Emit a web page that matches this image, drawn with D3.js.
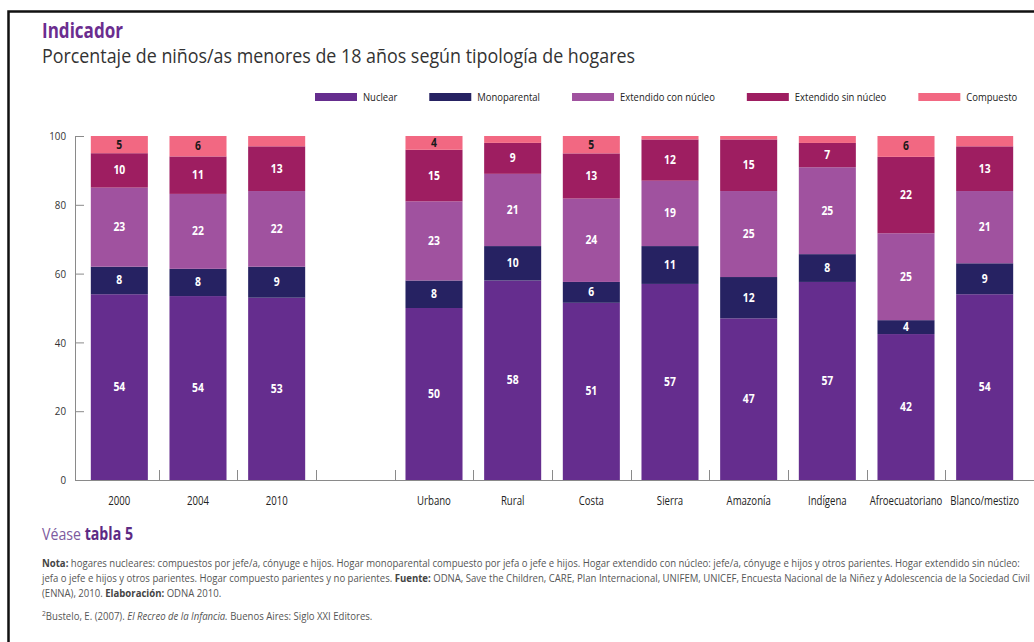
<!DOCTYPE html>
<html>
<head>
<meta charset="utf-8">
<script src="https://cdn.jsdelivr.net/npm/d3@7"></script>
<style>
  body { margin: 0; background: #fff; }
  svg { display: block; }
  text { font-family: "Open Sans", "Noto Sans", sans-serif; }
</style>
</head>
<body>
<svg id="chart" width="1034" height="642"></svg>
<script>
// categories (" " is the empty slot between years and regions)
const categories = ["2000", "2004", "2010", " ", "Urbano", "Rural", "Costa", "Sierra", "Amazonía", "Indígena", "Afroecuatoriano", "Blanco/mestizo"];
const seriesNames = ["Nuclear", "Monoparental", "Extendido con núcleo", "Extendido sin núcleo", "Compuesto"];
const nuclear      = [54, 54, 53, null, 50, 58, 51, 57, 47, 57, 42, 54];
const monoparental = [8, 8, 9, null, 8, 10, 6, 11, 12, 8, 4, 9];
const extendidoCon = [23, 22, 22, null, 23, 21, 24, 19, 25, 25, 25, 21];
const extendidoSin = [10, 11, 13, null, 15, 9, 13, 12, 15, 7, 22, 13];
const compuesto    = [5, 6, 3, null, 4, 2, 5, 1, 1, 2, 6, 3];
const yTicks = [0, 20, 40, 60, 80, 100];
const colors = ["#652d8e", "#262262", "#a0529f", "#9e1e61", "#f26882"];

let svg = d3.select("#chart");

// squeeze text horizontally, the original uses a condensed face
function condense(sel, k) {
  sel.each(function () {
    let w = this.getComputedTextLength();
    d3.select(this).attr("textLength", w * k).attr("lengthAdjust", "spacingAndGlyphs");
  });
}
function fitWidth(sel, w) {
  sel.attr("textLength", w).attr("lengthAdjust", "spacingAndGlyphs");
}

// frame
svg.append("path")
  .attr("d", "M8.5,642V11.5H1034")
  .attr("fill", "none")
  .attr("stroke", "#111")
  .attr("stroke-width", 2.5);

// Title
let t1 = svg.append("text")
  .text("Indicador")
  .attr("x", 42).attr("y", 38)
  .style("font-size", "21px")
  .style("font-weight", "bold")
  .style("fill", "#6b2d8f");
fitWidth(t1, 81);

let t2 = svg.append("text")
  .text("Porcentaje de niños/as menores de 18 años según tipología de hogares")
  .attr("x", 42).attr("y", 63)
  .style("font-size", "20px")
  .style("fill", "#333");
fitWidth(t2, 593);

// scales
let x = d3.scaleBand()
  .domain(categories)
  .range([80, 1024])
  .paddingInner(0.275)
  .paddingOuter(0.1375);

// 100% stacked columns
let y = d3.scaleLinear()
  .domain([0, 1])
  .range([480, 136]);

// data table for the stack
let rows = categories.map((c, i) => ({
  cat: c,
  "Nuclear": nuclear[i],
  "Monoparental": monoparental[i],
  "Extendido con núcleo": extendidoCon[i],
  "Extendido sin núcleo": extendidoSin[i],
  "Compuesto": compuesto[i]
})).filter(r => r["Nuclear"] !== null);

let stacked = d3.stack()
  .keys(seriesNames)
  .offset(d3.stackOffsetExpand)(rows);

let plot = svg.append("g").attr("id", "plot");

let layers = plot.selectAll("g.layer")
  .data(stacked)
  .join("g")
  .attr("class", "layer")
  .attr("fill", (d, i) => colors[i]);

layers.selectAll("rect")
  .data(d => d)
  .join("rect")
  .attr("x", d => x(d.data.cat))
  .attr("width", x.bandwidth())
  .attr("y", d => y(d[1]))
  .attr("height", d => y(d[0]) - y(d[1]));

// value labels (only segments of 4 or more)
stacked.forEach((layer, i) => {
  let key = layer.key;
  let labels = plot.append("g").selectAll("text")
    .data(layer.filter(d => d.data[key] >= 4))
    .join("text")
    .text(d => d.data[key])
    .attr("x", d => x(d.data.cat) + x.bandwidth() / 2)
    .attr("y", d => (y(d[0]) + y(d[1])) / 2 + 4)
    .attr("text-anchor", "middle")
    .style("font-size", "11.5px")
    .style("font-weight", "bold")
    .style("fill", i === 4 ? "#1a1a1a" : "#fff");
  condense(labels, 0.9);
});

// Y axis (ticks point inward)
let yAxis = d3.axisLeft(y)
  .tickValues(yTicks.map(v => v / 100))
  .tickFormat(d => Math.round(d * 100))
  .tickSizeInner(-9)
  .tickSizeOuter(0)
  .tickPadding(9);

let yGroup = svg.append("g")
  .attr("id", "y-axis")
  .attr("transform", "translate(75,0)")
  .call(yAxis);
yGroup.select(".domain").attr("stroke", "#8a8a8a");
yGroup.selectAll(".tick line").attr("stroke", "#8a8a8a");
yGroup.selectAll(".tick text")
  .style("font-size", "11.5px")
  .style("font-family", "\"Open Sans\", sans-serif")
  .style("fill", "#333");
condense(yGroup.selectAll(".tick text"), 0.85);

// X axis: labels under the bars, small ticks on the band borders
let xAxis = d3.axisBottom(x).tickSize(0).tickPadding(16);
let xGroup = svg.append("g")
  .attr("id", "x-axis")
  .attr("transform", "translate(0,480)")
  .call(xAxis);
xGroup.select(".domain").remove();
xGroup.selectAll(".tick text")
  .style("font-size", "12px")
  .style("font-family", "\"Open Sans\", sans-serif")
  .style("fill", "#222");
condense(xGroup.selectAll(".tick text"), 0.8);

xGroup.append("line")
  .attr("x1", 75).attr("x2", 1034)
  .attr("y1", 0.5).attr("y2", 0.5)
  .attr("stroke", "#8a8a8a");

let gapHalf = (x.step() - x.bandwidth()) / 2;
xGroup.selectAll("line.border")
  .data(categories.slice(1))
  .join("line")
  .attr("class", "border")
  .attr("x1", d => Math.round(x(d) - gapHalf) + 0.5)
  .attr("x2", d => Math.round(x(d) - gapHalf) + 0.5)
  .attr("y1", 0)
  .attr("y2", -10)
  .attr("stroke", "#8a8a8a");

// Legend
let legend = svg.append("g").attr("id", "legend");
let lx = 315;
seriesNames.forEach((name, i) => {
  legend.append("rect")
    .attr("x", lx).attr("y", 93)
    .attr("width", 42).attr("height", 8)
    .attr("fill", colors[i]);
  let lt = legend.append("text")
    .text(name)
    .attr("x", lx + 48).attr("y", 101)
    .style("font-size", "11px")
    .style("fill", "#222");
  condense(lt, 0.86);
  lx += 48 + (+lt.attr("textLength")) + 32;
});

// Véase tabla 5
let v = svg.append("text")
  .attr("x", 42).attr("y", 540)
  .style("font-size", "17px");
v.append("tspan").text("Véase ").style("fill", "#7d5a9e");
v.append("tspan").text("tabla 5").style("fill", "#5c2a84").style("font-weight", "bold");
fitWidth(v, 91);

// Notes
function note(yPos, parts) {
  let tx = svg.append("text")
    .attr("x", 42).attr("y", yPos)
    .style("font-size", "10px")
    .style("fill", "#555");
  parts.forEach(p => {
    let s = tx.append("tspan").text(p[0]);
    if (p[1] === "b") s.style("font-weight", "bold").style("fill", "#444");
    if (p[1] === "i") s.style("font-style", "italic");
    if (p[1] === "sup") s.style("font-size", "7px").attr("dy", -4);
    if (p[1] === "down") s.attr("dy", 4);
  });
  return tx;
}

let n1 = note(567, [["Nota:", "b"], [" hogares nucleares: compuestos por jefe/a, cónyuge e hijos. Hogar  monoparental compuesto por jefa o jefe e hijos. Hogar extendido con núcleo: jefe/a, cónyuge e hijos y otros parientes. Hogar extendido sin núcleo:"]]);
let n2 = note(582, [["jefa o jefe e hijos y otros parientes. Hogar compuesto parientes y no parientes. "], ["Fuente:", "b"], [" ODNA, Save the Children, CARE, Plan Internacional, UNIFEM, UNICEF, Encuesta Nacional de la Niñez y Adolescencia de la Sociedad Civil"]]);
let n3 = note(597, [["(ENNA), 2010. "], ["Elaboración:", "b"], [" ODNA 2010."]]);
let n4 = note(620, [["2", "sup"], ["Bustelo, E. (2007). ", "down"], ["El Recreo de la Infancia.", "i"], [" Buenos Aires: Siglo XXI Editores."]]);

let k = 988 / n2.node().getComputedTextLength();
condense(n1, k);
condense(n2, k);
condense(n3, k);
condense(n4, k);
</script>
</body>
</html>
